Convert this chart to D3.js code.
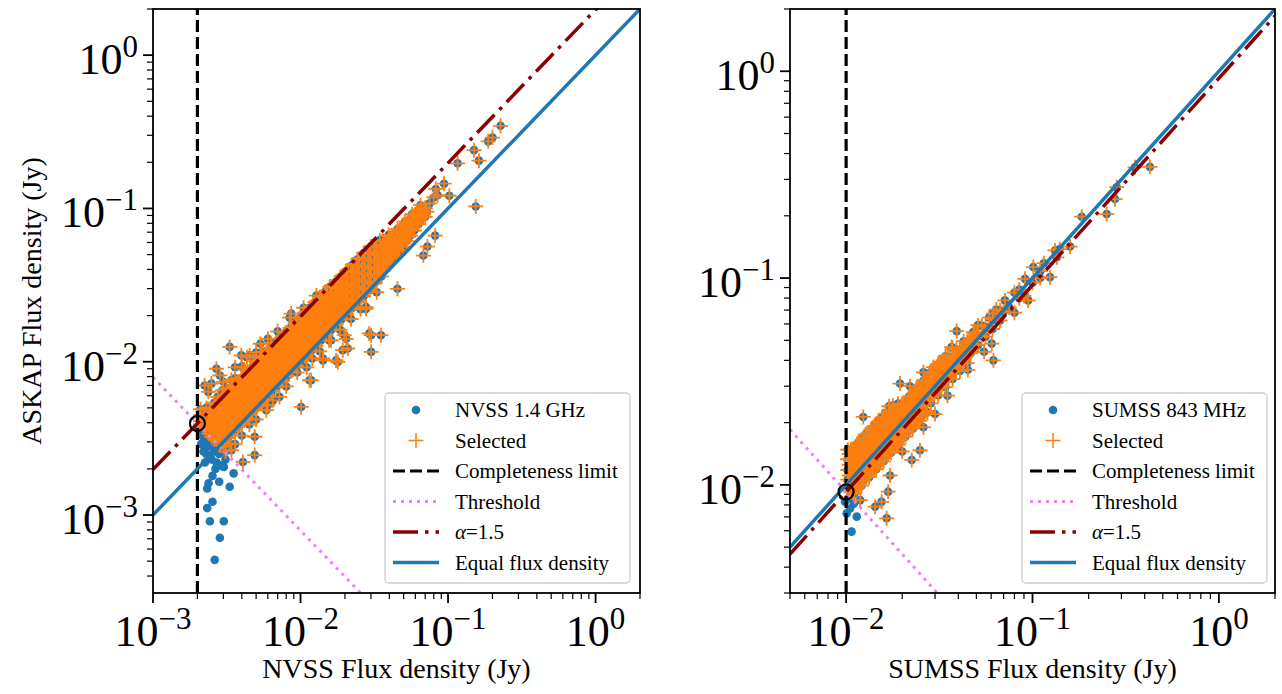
<!DOCTYPE html>
<html>
<head>
<meta charset="utf-8">
<script src="https://cdn.jsdelivr.net/npm/d3@7"></script>
<style>
  body { margin: 0; background: #ffffff; }
  svg { display: block; }
  text { font-family: "Liberation Serif", Tinos, "Times New Roman", Times, serif; fill: #000; }
</style>
</head>
<body>
<svg id="fig" width="1282" height="694"></svg>
<script>
// ---- Survey parameters ----
const askapFreqMHz = 888;
const nvssFreqMHz = 1400;
const sumssFreqMHz = 843;
const spectralIndex = 1.5;
const nvssLimitJy = 2e-3;   // NVSS completeness limit
const sumssLimitJy = 1e-2;  // SUMSS completeness limit

// ---- Axis ranges and tick labels (Jy) ----
const nvssXDomain = [1e-3, 2];
const nvssYDomain = [3.1e-4, 2];
const nvssXTicks = [1e-3, 1e-2, 1e-1, 1];
const nvssYTicks = [1e-3, 1e-2, 1e-1, 1];
const sumssXDomain = [5e-3, 2];
const sumssYDomain = [3e-3, 2];
const sumssXTicks = [1e-2, 1e-1, 1];
const sumssYTicks = [1e-2, 1e-1, 1];

// ---- NVSS cross-match, mJy: [NVSS flux, [ASKAP fluxes ...]] ----
const nvssColumns = [
 [2.1, [3.9, 4.1, 4.5, 4.9]],
 [2.2, [3.74, 4.14, 4.6]],
 [2.3, [3.55, 3.7, 4.14, 4.49, 5.0]],
 [2.4, [3.4, 3.65, 4.08, 4.51]],
 [2.45, [3.38, 3.8, 4.24, 4.68]],
 [2.5, [3.23, 3.6, 4.03, 4.5, 4.88]],
 [2.6, [3.15, 3.54, 3.95, 4.42, 4.89, 5.4]],
 [2.65, [3.29, 3.66, 4.11, 4.58, 5.06]],
 [2.7, [3.1, 3.48, 3.89, 4.35, 4.86, 5.27]],
 [2.8, [3.02, 3.39, 3.81, 4.26, 4.76, 5.26]],
 [2.85, [2.85, 3.16, 3.53, 3.93, 4.42, 4.93, 5.44]],
 [2.9, [2.99, 3.34, 3.74, 4.18, 4.67, 5.22, 5.66]],
 [3.0, [2.8, 3.24, 3.63, 4.08, 4.56, 5.1, 5.64]],
 [3.05, [3.05, 3.39, 3.78, 4.21, 4.73, 5.28, 5.83]],
 [3.1, [3.19, 3.57, 4.0, 4.46, 4.99, 5.58, 6.05]],
 [3.2, [3.46, 3.87, 4.35, 4.86, 5.44, 6.02]],
 [3.25, [3.25, 3.61, 4.03, 4.49, 5.04, 5.62, 6.21]],
 [3.3, [3.4, 3.8, 4.26, 4.75, 5.31, 5.94, 6.44]],
 [3.45, [3.73, 4.17, 4.69, 5.24, 5.87, 6.49]],
 [3.5, [3.5, 3.89, 4.34, 4.83, 5.43, 6.06, 6.69]],
 [3.55, [3.66, 4.08, 4.58, 5.11, 5.72, 6.39, 6.92]],
 [3.7, [4.0, 4.48, 5.03, 5.62, 6.29, 6.96]],
 [3.75, [3.75, 4.16, 4.65, 5.18, 5.81, 6.49, 7.16]],
 [3.8, [3.91, 4.37, 4.9, 5.47, 6.12, 6.84, 7.41]],
 [3.95, [4.27, 4.78, 5.37, 6.0, 6.72, 7.43]],
 [4.0, [4.0, 4.44, 4.96, 5.52, 6.2, 6.92, 7.64]],
 [4.1, [4.22, 4.72, 5.29, 5.9, 6.6, 7.38, 8.0]],
 [4.25, [4.59, 5.14, 5.78, 6.46, 7.23, 7.99]],
 [4.3, [4.3, 4.77, 5.33, 5.93, 6.67, 7.44, 8.21]],
 [4.4, [4.53, 5.06, 5.68, 6.34, 7.08, 7.92, 8.58]],
 [4.55, [4.91, 5.51, 6.19, 6.92, 7.74, 8.55]],
 [4.6, [4.6, 5.11, 5.7, 6.35, 7.13, 7.96, 8.79]],
 [4.7, [4.84, 5.41, 6.06, 6.77, 7.57, 8.46, 9.17]],
 [4.9, [5.29, 5.93, 6.66, 7.45, 8.33, 9.21]],
 [4.95, [4.95, 5.49, 6.14, 6.83, 7.67, 8.56, 9.45]],
 [5.05, [5.2, 5.81, 6.51, 7.27, 8.13, 9.09, 9.85]],
 [5.25, [5.67, 6.35, 7.14, 7.98, 8.93, 9.87]],
 [5.3, [5.3, 5.88, 6.57, 7.31, 8.22, 9.17, 10.1]],
 [5.45, [5.61, 6.27, 7.03, 7.85, 8.77, 9.81, 10.6]],
 [5.65, [6.1, 6.84, 7.68, 8.59, 9.6, 10.6]],
 [5.7, [5.7, 6.33, 7.07, 7.87, 8.84, 9.86, 10.9]],
 [5.85, [6.03, 6.73, 7.55, 8.42, 9.42, 10.5, 11.4]],
 [6.0, [6.0, 6.66, 7.44, 8.28, 9.3, 10.4, 11.5]],
 [6.1, [6.59, 7.38, 8.3, 9.27, 10.4, 11.5]],
 [6.3, [6.49, 7.25, 8.13, 9.07, 10.1, 11.3, 12.3]],
 [6.4, [6.4, 7.1, 7.94, 8.83, 9.92, 11.1, 12.2]],
 [6.55, [7.07, 7.93, 8.91, 9.96, 11.1, 12.3]],
 [6.8, [7.0, 7.82, 8.77, 9.79, 10.9, 12.2, 13.3]],
 [6.9, [6.9, 7.66, 8.56, 9.52, 10.7, 11.9, 13.2]],
 [7.05, [7.61, 8.53, 9.59, 10.7, 12.0, 13.3]],
 [7.3, [7.52, 8.4, 9.42, 10.5, 11.8, 13.1, 14.2]],
 [7.45, [7.45, 8.27, 9.24, 10.3, 11.5, 12.9, 14.2]],
 [7.6, [8.21, 9.2, 10.3, 11.6, 12.9, 14.3]],
 [7.9, [8.14, 9.09, 10.2, 11.4, 12.7, 14.2, 15.4]],
 [8.05, [8.05, 8.94, 9.98, 11.1, 12.5, 13.9, 15.4]],
 [8.2, [8.86, 9.92, 11.2, 12.5, 13.9, 15.4]],
 [8.5, [8.76, 9.78, 11.0, 12.2, 13.7, 15.3, 16.6]],
 [8.7, [8.7, 9.66, 10.8, 12.0, 13.5, 15.1, 16.6]],
 [8.85, [9.56, 10.7, 12.0, 13.5, 15.0, 16.6]],
 [9.2, [9.48, 10.6, 11.9, 13.2, 14.8, 16.6, 17.9]],
 [9.4, [9.4, 10.4, 11.7, 13.0, 14.6, 16.3, 18.0]],
 [9.55, [10.3, 11.6, 13.0, 14.5, 16.2, 18.0]],
 [9.9, [10.2, 11.4, 12.8, 14.3, 15.9, 17.8, 19.3]],
 [10.1, [10.1, 11.2, 12.5, 13.9, 15.7, 17.5, 19.3]],
 [10.3, [11.1, 12.5, 14.0, 15.7, 17.5, 19.4]],
 [10.7, [11.0, 12.3, 13.8, 15.4, 17.2, 19.3, 20.9]],
 [10.9, [10.9, 12.1, 13.5, 15.0, 16.9, 18.9, 20.8]],
 [11.1, [12.0, 13.4, 15.1, 16.9, 18.9, 20.9]],
 [11.55, [11.9, 13.3, 14.9, 16.6, 18.6, 20.8, 22.5]],
 [11.8, [11.8, 13.1, 14.6, 16.3, 18.3, 20.4, 22.5]],
 [12.0, [13.0, 14.5, 16.3, 18.2, 20.4, 22.6]],
 [12.5, [12.9, 14.4, 16.1, 18.0, 20.1, 22.5, 24.4]],
 [12.75, [12.75, 14.2, 15.8, 17.6, 19.8, 22.1, 24.4]],
 [13.0, [14.0, 15.7, 17.7, 19.8, 22.1, 24.4]],
 [13.5, [13.9, 15.5, 17.4, 19.4, 21.7, 24.3, 26.3]],
 [13.75, [13.75, 15.3, 17.1, 19.0, 21.3, 23.8, 26.3]],
 [14.0, [15.1, 16.9, 19.0, 21.3, 23.8, 26.3]],
 [14.6, [15.0, 16.8, 18.8, 21.0, 23.5, 26.3, 28.5]],
 [14.9, [14.9, 16.5, 18.5, 20.6, 23.1, 25.8, 28.5]],
 [15.2, [16.4, 18.4, 20.7, 23.1, 25.8, 28.6]],
 [15.8, [16.3, 18.2, 20.4, 22.8, 25.4, 28.4, 30.8]],
 [16.1, [16.1, 17.9, 20.0, 22.2, 25.0, 27.9, 30.8]],
 [16.4, [17.7, 19.8, 22.3, 24.9, 27.9, 30.8]],
 [17.1, [17.6, 19.7, 22.1, 24.6, 27.5, 30.8]],
 [17.45, [17.45, 19.4, 21.6, 24.1, 27.0, 30.2, 33.3]],
 [17.8, [19.2, 21.5, 24.2, 27.1, 30.3, 33.5]],
 [18.5, [19.1, 21.3, 23.9, 26.6, 29.8, 33.3]],
 [18.9, [18.9, 21.0, 23.4, 26.1, 29.3, 32.7, 36.1]],
 [19.3, [20.8, 23.4, 26.2, 29.3, 32.8, 36.3]],
 [20.1, [20.7, 23.1, 25.9, 28.9, 32.4, 36.2]],
 [20.5, [20.5, 22.8, 25.4, 28.3, 31.8, 35.5, 39.2]],
 [21.0, [22.7, 25.4, 28.6, 31.9, 35.7, 39.5]],
 [21.9, [22.6, 25.2, 28.3, 31.5, 35.3, 39.4]],
 [22.4, [22.4, 24.9, 27.8, 30.9, 34.7, 38.8, 42.8]],
 [22.9, [24.7, 27.7, 31.1, 34.8, 38.9, 43.1]],
 [23.9, [24.6, 27.5, 30.8, 34.4, 38.5, 43.0]],
 [24.4, [24.4, 27.1, 30.3, 33.7, 37.8, 42.2, 46.6]],
 [25.0, [27.0, 30.3, 34.0, 38.0, 42.5, 47.0]],
 [26.2, [27.0, 30.1, 33.8, 37.7, 42.2, 47.2]],
 [26.8, [26.8, 29.7, 33.2, 37.0, 41.5, 46.4, 51.2]],
 [27.4, [29.6, 33.2, 37.3, 41.6, 46.6, 51.5]],
 [28.7, [29.6, 33.0, 37.0, 41.3, 46.2, 51.7]],
 [29.3, [29.3, 32.5, 36.3, 40.4, 45.4, 50.7]],
 [30.0, [32.4, 36.3, 40.8, 45.6, 51.0, 56.4]],
 [31.4, [32.3, 36.1, 40.5, 45.2, 50.6, 56.5]],
 [32.1, [33.0, 35.6, 39.8, 44.3, 49.8, 55.5]],
 [32.9, [35.5, 39.8, 44.7, 50.0, 55.9]],
 [33.7, [37.4, 41.0, 46.3, 52.4]],
 [34.5, [39.7, 44.5, 49.7, 55.5, 62.1]],
 [35.3, [36.0, 39.2, 43.8, 48.7, 54.7]],
 [36.1, [39.0, 43.7, 49.1, 54.9, 61.4]],
 [37.0, [41.3, 46.2, 52.0, 57.6]],
 [37.8, [43.5, 48.8, 54.4, 60.9]],
 [38.7, [42.9, 48.0, 53.4, 60.0]],
 [39.6, [47.9, 53.9, 60.2, 67.3]],
 [40.5, [45.1, 50.5, 56.7, 63.5]],
 [41.5, [47.7, 53.5, 59.8, 66.8]],
 [42.5, [47.2, 52.7, 58.7, 65.9]],
 [43.5, [52.6, 59.2, 66.1]],
 [44.5, [49.6, 55.5, 62.8, 69.5]],
 [45.5, [52.3, 58.7, 65.5, 73.3]],
 [46.8, [53.4, 61.9, 70.1]],
 [48, [58.1, 65.3, 73.0]],
 [49.5, [56.2, 60.3, 68.7, 77.4]],
 [51, [65.8, 73.4, 82]],
 [52.5, [61.4, 69.0, 78.3]],
 [54, [65.3, 73.4, 82.1]],
 [55.5, [66.6, 77.2, 86.0]],
 [57, [73.5, 82, 91.8]],
 [59, [71.8, 80.3, 89.6]],
 [61, [83, 92.7]],
 [63, [78.9, 86.6, 97.1]],
 [65, [83.9, 93.6, 105]],
 [67, [88.4, 96.0]],
 [70, [88, 101]]
];

// ---- NVSS cross-match, mJy: individual [NVSS, ASKAP] sources ----
const nvssSources = [
 // faint end near the completeness limit
 [2.62, 0.51], [2.84, 0.71], [2.43, 0.91], [3.02, 0.91], [2.33, 1.11], [2.53, 1.22],
 [2.33, 1.49], [2.38, 1.61], [2.81, 1.65], [3.31, 1.53], [3.52, 1.87], [2.53, 1.8],
 [3.02, 2.06], [2.25, 2.2], [2.3, 2.5], [2.4, 2.8], [2.2, 3.0], [2.15, 3.3], [2.5, 2.3],
 [2.6, 2.6], [2.7, 2.2], [2.45, 3.1], [2.35, 3.2], [2.8, 2.5], [2.9, 2.1], [2.55, 2.95],
 [2.2, 2.6], [2.65, 2.0], [2.1, 3.5], [2.05, 3.6], [2.3, 2.9], [2.75, 2.7], [2.4, 2.4],
 [3.1, 2.3], [2.95, 2.6], [2.12, 2.9], [2.18, 3.45], [2.28, 3.35], [2.62, 2.85], [2.5, 3.05],
 // above the alpha = 1.5 line
 [3.31, 12.5], [2.69, 9.0], [8.65, 20.6], [6.0, 14.1], [5.34, 13.1], [4.52, 11.0],
 [2.84, 8.14], [2.24, 7.0], [2.37, 6.36], [3.97, 11.0], [4.33, 10.7], [8.44, 19.4],
 [2.49, 7.2], [3.6, 9.2], [5.0, 11.5], [7.0, 15.8], [10.5, 22.5], [12.8, 27], [3.0, 7.4], [4.0, 9.3],
 [2.75, 5.9], [3.15, 6.7], [3.6, 7.8], [4.15, 8.9], [4.8, 10.2], [5.5, 11.6], [3.4, 7.6],
 [2.95, 6.5], [6.3, 13.2],
 // below the equal flux line
 [7.58, 7.57], [5.86, 4.83], [10.1, 5.07], [11.5, 7.57], [4.89, 2.46], [4.07, 2.22],
 [3.4, 2.65], [3.31, 2.93], [3.1, 2.6], [4.89, 3.24], [14.2, 10.5], [17.9, 9.95],
 [19.3, 11.9], [16.1, 13.8], [30.1, 14.9], [30.1, 11.6], [20.9, 12.2], [20.4, 14.1],
 [17.4, 10.2], [14.2, 10.2], [11.8, 7.57], [27.8, 22.1], [35.1, 14.9], [29.2, 15.3],
 [19.8, 14.9], [15.6, 13.8], [32.8, 28.4], [27.8, 22.7], [45.4, 29.9], [68, 49.3],
 [72.4, 56.4], [81.7, 66.5], [4.0, 3.3], [5.0, 4.2], [6.5, 5.6], [8.0, 6.9], [9.5, 8.5],
 [12, 10.5], [7.2, 5.9], [11, 9.2], [13.5, 11.7], [16, 13.8], [18.5, 16.2], [22, 19],
 [25.5, 22], [6, 5.2], [4.5, 3.9], [3.6, 2.9],
 // bright end
 [82.6, 134], [94, 145], [102, 121], [116, 197], [150, 240], [162, 205], [154, 103],
 [187, 274], [200, 290], [227, 346], [63.7, 89.7], [70, 100], [75, 108], [80, 118],
 [68, 92], [85, 122], [72, 95], [58, 80], [66, 100]
];

// ---- SUMSS cross-match, mJy: [SUMSS flux, [ASKAP fluxes ...]] ----
const sumssColumns = [
 [10.2, [9.49, 10.6, 11.8, 13.3, 14.8]],
 [10.4, [9.88, 11.1, 12.5, 14.1]],
 [10.6, [9.22, 10.4, 11.7, 13.0, 14.8]],
 [10.85, [9.22, 10.3, 11.6, 13.0, 14.8]],
 [11.1, [9.1, 10.3, 11.5, 12.9, 14.4]],
 [11.35, [9.65, 10.8, 12.1, 13.6, 15.4]],
 [11.6, [10.1, 11.4, 12.8, 14.3, 16.0]],
 [11.85, [10.1, 11.3, 12.7, 14.2, 16.1]],
 [12.1, [9.92, 11.3, 12.6, 14.0, 15.7]],
 [12.4, [10.5, 11.8, 13.3, 14.9, 16.9]],
 [12.7, [11.0, 12.4, 14.0, 15.6, 17.5]],
 [13.0, [11.1, 12.4, 13.9, 15.6, 17.7]],
 [13.3, [10.9, 12.4, 13.8, 15.4, 17.3]],
 [13.6, [11.6, 12.9, 14.6, 16.3, 18.5]],
 [13.9, [12.1, 13.6, 15.3, 17.1]],
 [14.2, [12.1, 13.5, 15.2, 17.0, 19.3]],
 [14.5, [11.9, 13.5, 15.1, 16.8, 18.9]],
 [14.85, [12.6, 14.1, 15.9, 17.8, 20.2]],
 [15.2, [13.2, 14.9, 16.7, 18.7]],
 [15.55, [13.2, 14.8, 16.6, 18.7, 21.1]],
 [15.9, [13.0, 14.8, 16.5, 18.4, 20.7]],
 [16.25, [13.8, 15.4, 17.4, 19.5, 22.1]],
 [16.6, [14.4, 16.3, 18.3, 20.4]],
 [17.0, [14.5, 16.2, 18.2, 20.4, 23.1]],
 [17.4, [14.3, 16.2, 18.1, 20.2, 22.6]],
 [17.8, [15.1, 16.9, 19.0, 21.4, 24.2]],
 [18.2, [15.8, 17.8, 20.0, 22.4]],
 [18.6, [15.8, 17.7, 19.9, 22.3]],
 [19.0, [15.6, 17.7, 19.8, 22.0, 24.7]],
 [19.45, [16.5, 18.5, 20.8, 23.3]],
 [19.9, [17.3, 19.5, 21.9, 24.5]],
 [20.35, [17.3, 19.3, 21.8, 24.4]],
 [20.8, [17.1, 19.3, 21.6, 24.1]],
 [21.3, [18.1, 20.2, 22.8, 25.6]],
 [21.8, [19.0, 21.4, 24.0, 26.8]],
 [22.3, [19.0, 21.2, 23.9, 26.8]],
 [22.8, [18.7, 21.2, 23.7, 26.4]],
 [23.3, [19.8, 22.1, 24.9, 28.0]],
 [23.8, [20.7, 23.3, 26.2, 29.3]],
 [24.35, [20.7, 23.1, 26.1, 29.2]],
 [24.9, [20.4, 23.2, 25.9, 28.9]],
 [25.5, [21.7, 24.2, 27.3, 30.6]],
 [26.1, [22.7, 25.6, 28.7, 32.1]],
 [26.7, [22.7, 25.4, 28.6, 32.0]],
 [27.3, [22.4, 25.4, 28.4, 31.7]],
 [27.9, [26.5, 29.9, 33.5]],
 [28.5, [24.8, 27.9, 31.4, 35.1]],
 [29.15, [27.7, 31.2, 35.0]],
 [29.8, [27.7, 31.0, 34.6]],
 [30.5, [29.0, 32.6, 36.6]],
 [31.2, [27.1, 30.6, 34.3, 38.4]],
 [31.9, [30.3, 34.1, 38.3]],
 [32.6, [30.3, 33.9, 37.8]],
 [33.35, [31.7, 35.7, 40.0]],
 [34.1, [29.7, 33.4, 37.5, 41.9]],
 [34.9, [33.2, 37.3, 41.9]],
 [35.7, [33.2, 37.1, 41.4]],
 [36.5, [34.7, 39.1]],
 [37.3, [32.5, 36.6, 41.0, 45.9]],
 [38.15, [36.2, 40.8]],
 [39.0, [36.3, 40.6, 45.2]],
 [39.9, [37.9, 42.7]],
 [40.8, [35.5, 40.0, 44.9]],
 [41.75, [39.7, 44.7]],
 [42.7, [39.7, 44.4, 49.5]],
 [43.65, [41.5, 46.7]],
 [44.6, [38.8, 43.7, 49.1]],
 [45.65, [43.4, 48.8]],
 [46.7, [43.4, 48.6]],
 [47.75, [45.4, 51.1]],
 [48.8, [47.8, 53.7]],
 [49.9, [47.4, 53.4]],
 [51, [47.4, 53.0, 59.2]],
 [53.4, [52.3, 58.7]],
 [56, [52.1, 58.2]],
 [58.5, [57.3, 64.4]],
 [61, [56.7, 63.4]],
 [64, [62.7, 70.4]],
 [67, [62.3, 69.7]],
 [70, [68.6]]
];

// ---- SUMSS cross-match, mJy: individual [SUMSS, ASKAP] sources ----
const sumssSources = [
 // faint end near the completeness limit
 [10.7, 5.94], [10.07, 7.28], [11.4, 7.02], [10.5, 7.69], [9.86, 8.28], [10.3, 8.6], [11.0, 8.1],
 // scattered sources
 [11.9, 8.44], [14.3, 7.84], [15.5, 8.28], [16.5, 6.89], [16.8, 9.27], [17.2, 11.1],
 [22.5, 13.2], [24.9, 14.7], [12.36, 21.3], [15.8, 21.3], [19.45, 30.9], [14, 19],
 [17, 24], [22, 30], [26, 35], [20, 14.5], [26, 19], [30, 22], [35, 27], [45, 36],
 [55, 44], [29.4, 37.1], [31.9, 39.3], [36.8, 46.4], [39.2, 55.4], [48.1, 54.8],
 [60.4, 48.2], [61.7, 40.0], [61.7, 67.3], [71.1, 78], [75, 72], [80, 68], [80, 85],
 [85, 80], [85, 88], [90, 82], [94.8, 78], [91.2, 99.1], [100, 95], [101, 113],
 [110, 100], [110, 108], [115, 118], [124, 101], [135, 126], [132, 136], [140, 138],
 [159, 142], [183.7, 198], [250, 204], [277, 241], [283, 275], [355, 343], [426.6, 345]
];

// ---- Figure ----
const svg = d3.select('#fig');
const C_DOT = '#1f77b4', C_SEL = '#ff7f0e';

const panels = [
  {
    id: 'nvss', x0: 153, x1: 640, y0: 9, y1: 593,
    xDomain: nvssXDomain, yDomain: nvssYDomain, xTicks: nvssXTicks, yTicks: nvssYTicks,
    columns: nvssColumns, sources: nvssSources, limit: nvssLimitJy, surveyFreq: nvssFreqMHz,
    xLabel: 'NVSS Flux density (Jy)', yLabel: 'ASKAP Flux density (Jy)', legendName: 'NVSS 1.4 GHz',
    legendX: 385
  },
  {
    id: 'sumss', x0: 790, x1: 1275, y0: 9, y1: 593,
    xDomain: sumssXDomain, yDomain: sumssYDomain, xTicks: sumssXTicks, yTicks: sumssYTicks,
    columns: sumssColumns, sources: sumssSources, limit: sumssLimitJy, surveyFreq: sumssFreqMHz,
    xLabel: 'SUMSS Flux density (Jy)', yLabel: null, legendName: 'SUMSS 843 MHz',
    legendX: 1022
  }
];

function minorTicks(domain) {
  const out = [];
  const e0 = Math.floor(Math.log10(domain[0])), e1 = Math.ceil(Math.log10(domain[1]));
  for (let e = e0; e <= e1; e++) {
    for (let m = 2; m <= 9; m++) {
      const v = m * Math.pow(10, e);
      if (v >= domain[0] * 0.999 && v <= domain[1] * 1.001) out.push(v);
    }
  }
  return out;
}

function powerLabel(textSel, value) {
  const e = Math.round(Math.log10(value));
  textSel.append('tspan').text('10');
  textSel.append('tspan').attr('font-size', 31).attr('dy', -17)
    .text(e < 0 ? '\u2212' + (-e) : String(e));
}

function plusPath(cx, cy, h) {
  return `M${cx - h},${cy}H${cx + h}M${cx},${cy - h}V${cy + h}`;
}

panels.forEach(p => {
  const x = d3.scaleLog().domain(p.xDomain).range([p.x0, p.x1]);
  const y = d3.scaleLog().domain(p.yDomain).range([p.y1, p.y0]);
  const g = svg.append('g').attr('class', 'panel-' + p.id);

  const clipId = 'clip-' + p.id;
  svg.append('defs').append('clipPath').attr('id', clipId)
    .append('rect').attr('x', p.x0).attr('y', p.y0)
    .attr('width', p.x1 - p.x0).attr('height', p.y1 - p.y0);

  // Sources in Jy
  const sources = [];
  p.columns.forEach(([s, list]) => list.forEach(a => sources.push({ s: s / 1000, a: a / 1000 })));
  p.sources.forEach(([s, a]) => sources.push({ s: s / 1000, a: a / 1000 }));

  const factor = Math.pow(askapFreqMHz / p.surveyFreq, -spectralIndex);
  const product = p.limit * p.limit * factor;
  const selected = sources.filter(d => d.s * d.a >= product);

  const plot = g.append('g').attr('clip-path', `url(#${clipId})`);

  plot.append('g').selectAll('circle').data(sources).join('circle')
    .attr('cx', d => x(d.s)).attr('cy', d => y(d.a)).attr('r', 4.3)
    .attr('fill', C_DOT);

  plot.append('g').selectAll('path').data(selected).join('path')
    .attr('d', d => plusPath(x(d.s), y(d.a), 7.5))
    .attr('stroke', C_SEL).attr('stroke-width', 1.8).attr('fill', 'none');

  const line = d3.line().x(d => x(d[0])).y(d => y(d[1]));
  const xs = p.xDomain;

  // Completeness limit
  plot.append('path').attr('d', line([[p.limit, p.yDomain[0]], [p.limit, p.yDomain[1]]]))
    .attr('stroke', '#000').attr('stroke-width', 3.2).attr('stroke-dasharray', '12,5').attr('fill', 'none');
  // Threshold on the flux product
  plot.append('path').attr('d', line(xs.map(v => [v, product / v])))
    .attr('stroke', 'violet').attr('stroke-width', 3).attr('stroke-dasharray', '3,5').attr('fill', 'none');
  // Spectral index alpha = 1.5
  plot.append('path').attr('d', line(xs.map(v => [v, v * factor])))
    .attr('stroke', 'darkred').attr('stroke-width', 3.5).attr('stroke-dasharray', '25,7,3.5,7').attr('fill', 'none');
  // Equal flux density
  plot.append('path').attr('d', line(xs.map(v => [v, v])))
    .attr('stroke', C_DOT).attr('stroke-width', 3.5).attr('fill', 'none');
  // Limit on the alpha line
  plot.append('circle').attr('cx', x(p.limit)).attr('cy', y(p.limit * factor)).attr('r', 7.5)
    .attr('fill', 'none').attr('stroke', '#000').attr('stroke-width', 2.2);

  // Frame
  g.append('rect').attr('x', p.x0).attr('y', p.y0).attr('width', p.x1 - p.x0).attr('height', p.y1 - p.y0)
    .attr('fill', 'none').attr('stroke', '#000').attr('stroke-width', 1.8);

  // X ticks
  const ax = g.append('g');
  ax.selectAll('line.maj').data(p.xTicks).join('line')
    .attr('x1', d => x(d)).attr('x2', d => x(d)).attr('y1', p.y1).attr('y2', p.y1 + 10)
    .attr('stroke', '#000').attr('stroke-width', 1.8);
  ax.selectAll('line.min').data(minorTicks(p.xDomain)).join('line')
    .attr('x1', d => x(d)).attr('x2', d => x(d)).attr('y1', p.y1).attr('y2', p.y1 + 6)
    .attr('stroke', '#000').attr('stroke-width', 1.2);
  p.xTicks.forEach(t => {
    const tx = ax.append('text').attr('x', x(t)).attr('y', p.y1 + 53)
      .attr('text-anchor', 'middle').attr('font-size', 44);
    powerLabel(tx, t);
  });

  // Y ticks
  const ay = g.append('g');
  ay.selectAll('line.maj').data(p.yTicks).join('line')
    .attr('y1', d => y(d)).attr('y2', d => y(d)).attr('x1', p.x0).attr('x2', p.x0 - 10)
    .attr('stroke', '#000').attr('stroke-width', 1.8);
  ay.selectAll('line.min').data(minorTicks(p.yDomain)).join('line')
    .attr('y1', d => y(d)).attr('y2', d => y(d)).attr('x1', p.x0).attr('x2', p.x0 - 6)
    .attr('stroke', '#000').attr('stroke-width', 1.2);
  p.yTicks.forEach(t => {
    const ty = ay.append('text').attr('x', p.x0 - 15).attr('y', y(t) + 19)
      .attr('text-anchor', 'end').attr('font-size', 44);
    powerLabel(ty, t);
  });

  // Axis titles
  g.append('text').attr('x', (p.x0 + p.x1) / 2).attr('y', 678)
    .attr('text-anchor', 'middle').attr('font-size', 28).text(p.xLabel);
  if (p.yLabel) {
    g.append('text').attr('transform', `translate(41,${(p.y0 + p.y1) / 2}) rotate(-90)`)
      .attr('text-anchor', 'middle').attr('font-size', 28).text(p.yLabel);
  }

  // Legend
  const lg = g.append('g');
  const lx = p.legendX, ltop = 393;
  lg.append('rect').attr('x', lx).attr('y', ltop).attr('width', 245).attr('height', 190)
    .attr('rx', 4).attr('fill', '#fff').attr('fill-opacity', 0.8)
    .attr('stroke', '#cccccc').attr('stroke-width', 1.3);
  const h0 = lx + 8, h1 = lx + 54, hc = (h0 + h1) / 2, tx = lx + 70;
  const rowY = i => ltop + 17 + i * 30.5;
  lg.append('circle').attr('cx', hc).attr('cy', rowY(0)).attr('r', 4.3).attr('fill', C_DOT);
  lg.append('path').attr('d', plusPath(hc, rowY(1), 7.5)).attr('stroke', C_SEL).attr('stroke-width', 1.5);
  lg.append('line').attr('x1', h0).attr('x2', h1).attr('y1', rowY(2)).attr('y2', rowY(2))
    .attr('stroke', '#000').attr('stroke-width', 3.2).attr('stroke-dasharray', '12,5');
  lg.append('line').attr('x1', h0).attr('x2', h1).attr('y1', rowY(3)).attr('y2', rowY(3))
    .attr('stroke', 'violet').attr('stroke-width', 3).attr('stroke-dasharray', '3,5');
  lg.append('line').attr('x1', h0).attr('x2', h1).attr('y1', rowY(4)).attr('y2', rowY(4))
    .attr('stroke', 'darkred').attr('stroke-width', 3.5).attr('stroke-dasharray', '25,7,3.5,7');
  lg.append('line').attr('x1', h0).attr('x2', h1).attr('y1', rowY(5)).attr('y2', rowY(5))
    .attr('stroke', C_DOT).attr('stroke-width', 3.5);
  const labels = [p.legendName, 'Selected', 'Completeness limit', 'Threshold', null, 'Equal flux density'];
  labels.forEach((t, i) => {
    const el = lg.append('text').attr('x', tx).attr('y', rowY(i) + 7).attr('font-size', 21);
    if (t === null) {
      el.append('tspan').attr('font-style', 'italic').text('\u03b1');
      el.append('tspan').text('=1.5');
    } else {
      el.text(t);
    }
  });
});
</script>
</body>
</html>
